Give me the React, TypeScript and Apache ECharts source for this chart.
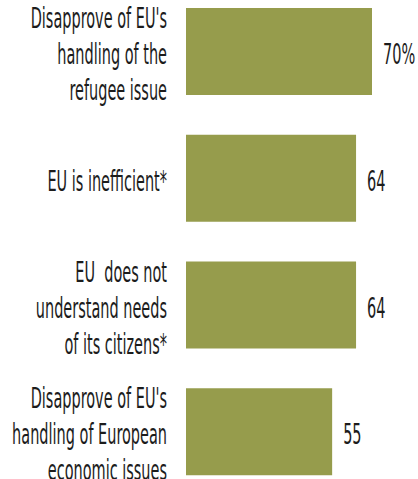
import React, { useEffect, useRef } from "react";
import * as echarts from "echarts";

const categories: string[] = [
  "Disapprove of EU's\nhandling of the\nrefugee issue",
  "EU is inefficient*",
  "EU  does not\nunderstand needs\nof its citizens*",
  "Disapprove of EU's\nhandling of European\neconomic issues",
];
const values: number[] = [70, 64, 64, 55];
const valueLabels: string[] = ["70%", "64", "64", "55"];

const FONT = "'DejaVu Sans Condensed', 'DejaVu Sans', sans-serif";
const TEXT_COLOR = "#1c1c1c";
const BAR_COLOR = "#969c4c";
const SX = 0.575;

export default function App() {
  const ref = useRef<HTMLDivElement>(null);
  useEffect(() => {
    if (!ref.current) return;
    const chart = echarts.init(ref.current, null, { renderer: "svg" });
    chart.setOption({
      animation: false,
      backgroundColor: "#ffffff",
      grid: { left: 186, width: 212.57, top: 0, bottom: 0, containLabel: false },
      xAxis: { type: "value", min: 0, max: 80, show: false },
      yAxis: {
        type: "category",
        data: categories,
        inverse: true,
        show: false,
      },
      series: [
        {
          type: "bar",
          data: values,
          barWidth: 87,
          itemStyle: { color: BAR_COLOR },
          silent: true,
        },
        {
          type: "custom",
          coordinateSystem: "cartesian2d",
          clip: false,
          silent: true,
          data: categories.map((_, i) => [0, i]),
          encode: { x: 0, y: 1 },
          renderItem: (params: any, api: any) => {
            const i = api.value(1);
            const p = api.coord([0, i]);
            return {
              type: "text",
              x: p[0] - 19,
              y: p[1] + 3,
              scaleX: SX,
              style: {
                text: categories[params.dataIndex],
                fontFamily: FONT,
                fontSize: 28,
                lineHeight: 36,
                align: "right",
                verticalAlign: "middle",
                fill: TEXT_COLOR,
              },
            };
          },
        },
        {
          type: "custom",
          coordinateSystem: "cartesian2d",
          clip: false,
          silent: true,
          data: values.map((v, i) => [v, i]),
          encode: { x: 0, y: 1 },
          renderItem: (params: any, api: any) => {
            const p = api.coord([api.value(0), api.value(1)]);
            return {
              type: "text",
              x: p[0] + 11,
              y: p[1] + 3,
              scaleX: SX,
              style: {
                text: valueLabels[params.dataIndex],
                fontFamily: FONT,
                fontSize: 28,
                align: "left",
                verticalAlign: "middle",
                fill: TEXT_COLOR,
              },
            };
          },
        },
      ],
    });
    return () => chart.dispose();
  }, []);
  return (
    <div
      ref={ref}
      style={{ position: "fixed", left: 0, top: -12, width: 418, height: 507, background: "#fff" }}
    />
  );
}
